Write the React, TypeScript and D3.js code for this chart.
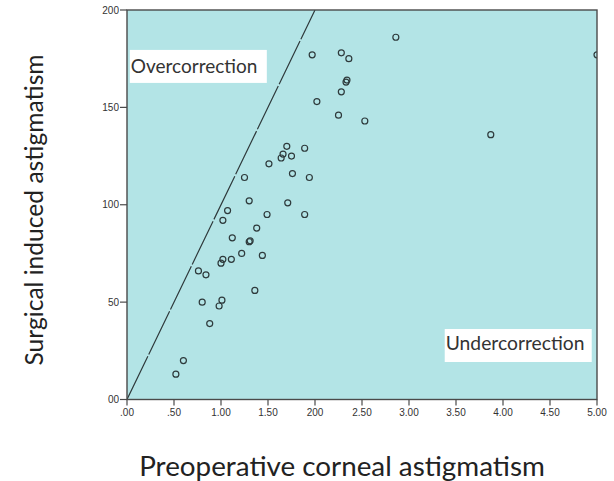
import React from "react";
import * as d3 from "d3";

const preopX: number[] = [
  0.52, 0.6, 0.88, 0.8, 0.98, 1.01, 0.76, 0.84, 1.0, 1.02, 1.11, 1.22, 1.12, 1.02, 1.07,
  1.3, 1.3, 1.31, 1.25, 1.38, 1.49, 1.44, 1.36, 1.71, 1.89, 1.51, 1.64, 1.66, 1.7, 1.75,
  1.76, 1.89, 1.94, 2.02, 2.25, 1.97, 2.28, 2.36, 2.34, 2.33, 2.28, 2.53, 2.86, 3.87, 5.0,
];
const siaY: number[] = [
  13, 20, 39, 50, 48, 51, 66, 64, 70, 72, 72, 75, 83, 92, 97,
  102, 81, 81.5, 114, 88, 95, 74, 56, 101, 95, 121, 124, 126, 130, 125,
  116, 129, 114, 153, 146, 177, 178, 175, 164, 163, 158, 143, 186, 136, 177,
];
const xTicks: number[] = [0, 0.5, 1, 1.5, 2, 2.5, 3, 3.5, 4, 4.5, 5];
const xTickLabels: string[] = [".00", ".50", "1.00", "1.50", "200", "2.50", "3.00", "3.50", "4.00", "4.50", "5.00"];
const yTicks: number[] = [0, 50, 100, 150, 200];
const yTickLabels: string[] = ["00", "50", "100", "150", "200"];
const refLine: [number, number][] = [[0, 0], [2, 200]];

export default function App() {
  const left = 127, right = 597, top = 10, bottom = 399.5;
  const x = d3.scaleLinear().domain([0, 5]).range([left, right]);
  const y = d3.scaleLinear().domain([0, 200]).range([bottom, top]);
  const line = d3.line<[number, number]>().x(d => x(d[0])).y(d => y(d[1]));
  const axisColor = "#4a4a4a";
  const tickFont = "'Liberation Sans', Arial, sans-serif";
  const labelFont = "Lato, 'Open Sans', sans-serif";

  return (
    <svg width={614} height={481} style={{ position: "absolute", left: 0, top: 0, background: "#fff" }}>
      <defs>
        <clipPath id="plotClip">
          <rect x={left} y={top} width={right - left} height={bottom - top} />
        </clipPath>
      </defs>
      <rect x={left} y={top} width={right - left} height={bottom - top} fill="#b3e4e6" />
      <g clipPath="url(#plotClip)">
        <path d={line(refLine) || ""} stroke="#2f3a3c" strokeWidth={1.2} fill="none" strokeDasharray="48,2" />
        {preopX.map((v, i) => (
          <circle key={i} cx={x(v)} cy={y(siaY[i])} r={3} fill="none" stroke="#2e3a3c" strokeWidth={1.2} />
        ))}
      </g>
      <rect x={left} y={top} width={right - left} height={bottom - top} fill="none" stroke={axisColor} strokeWidth={1.4} />
      {yTicks.map((t, i) => (
        <g key={"y" + i}>
          <line x1={left - 7} x2={left} y1={y(t)} y2={y(t)} stroke={axisColor} strokeWidth={1.2} />
          <text x={left - 8} y={y(t) + 3.5} textAnchor="end" fontSize={10} fontFamily={tickFont} fill="#333">
            {yTickLabels[i]}
          </text>
        </g>
      ))}
      {xTicks.map((t, i) => (
        <g key={"x" + i}>
          <line x1={x(t)} x2={x(t)} y1={bottom} y2={bottom + 6} stroke={axisColor} strokeWidth={1.2} />
          <text x={x(t)} y={416} textAnchor="middle" fontSize={10} fontFamily={tickFont} fill="#333">
            {xTickLabels[i]}
          </text>
        </g>
      ))}
      <rect x={x(0.03)} y={y(179.5)} width={137} height={33} fill="#fff" />
      <text x={x(0.03) + 1} y={73} fontSize={19} fontFamily={labelFont} fill="#333">Overcorrection</text>
      <rect x={x(3.38)} y={y(36.2)} width={147} height={33} fill="#fff" />
      <text x={x(3.38) + 1} y={350} fontSize={19.3} fontFamily={labelFont} fill="#333">Undercorrection</text>
      <text
        transform="translate(43,210) rotate(-90)"
        textAnchor="middle"
        fontSize={24.6}
        fontFamily={labelFont}
        fill="#222"
      >
        Surgical induced astigmatism
      </text>
      <text x={342} y={476} textAnchor="middle" fontSize={27.8} fontFamily={labelFont} fill="#222">
        Preoperative corneal astigmatism
      </text>
    </svg>
  );
}
